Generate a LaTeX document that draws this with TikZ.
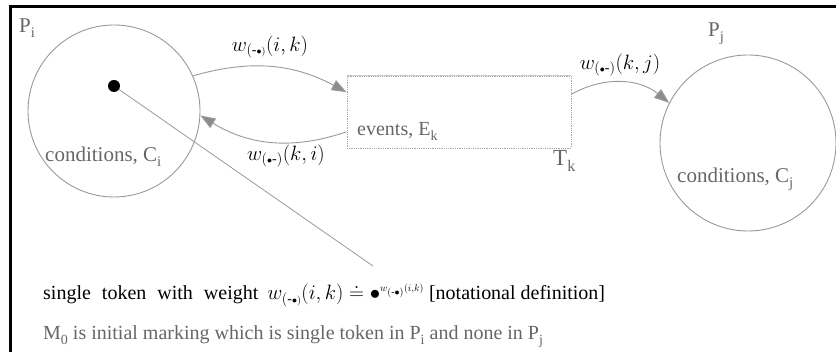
\documentclass[tikz,border=0pt]{standalone}
\usepackage{amsmath, amssymb}
\usepackage{fontspec}
\setmainfont{Liberation Serif}
\usetikzlibrary{arrows.meta}
\newcommand{\dn}[1]{\raisebox{-0.5ex}{\scalebox{0.7}{#1}}}
\newcommand{\wout}{w_{(\text{-}\scriptscriptstyle\bullet)}}
\newcommand{\win}{w_{({\scriptscriptstyle\bullet}\text{-})}}

\begin{document}
\begin{tikzpicture}[x=1pt, y=1pt,
  place/.style={circle, draw=gray!80, line width=0.9pt, minimum size=#1, inner sep=0pt},
  lbl/.style={text=gray!80!black, font=\fontsize{21}{24}\selectfont, inner sep=0pt, anchor=base west},
  wlbl/.style={font=\fontsize{20}{23}\selectfont, inner sep=0pt},
  arc/.style={draw=gray!80, line width=0.9pt, -{Triangle[length=15pt, width=11pt, fill=gray!90]}}]
  \useasboundingbox (0,0) rectangle (836,352);
  \draw[line width=3pt] (10,0) -- (10,345) -- (836,345);
  \node[place=172pt] (Pi) at (114,241) {};
  \node[place=176pt] (Pj) at (748,209) {};
  \node[draw=gray!70, densely dotted, line width=0.8pt, minimum width=224pt, minimum height=72pt, inner sep=0pt] (Ek) at (459,240) {};
  \draw[gray!40, line width=0.8pt] (Ek.north west) -- (Ek.north east);
  \node[circle, fill=black, minimum size=12pt, inner sep=0pt] (tok) at (114,266) {};
  \node[lbl] (piname) at (19,319) {P\dn{i}};
  \node[lbl] (pjname) at (708,315) {P\dn{j}};
  \node[lbl] (condi) at (45,190) {conditions, C\dn{i}};
  \node[lbl] (condj) at (677,169) {conditions, C\dn{j}};
  \node[lbl, font=\fontsize{20}{23}\selectfont] (evk) at (357,216) {events, E\dn{k}};
  \node[lbl, font=\fontsize{23}{26}\selectfont] (tk) at (553,186) {T\dn{k}};
  \node[wlbl] (wik) at (270,305) {$\wout(i,k)$};
  \node[wlbl] (wki) at (286,196) {$\win(k,i)$};
  \node[wlbl] (wkj) at (620,287) {$\win(k,j)$};
  \draw[arc] (Pi.24) to[bend left=22] (Ek.170);
  \draw[arc] (Ek.190) to[bend left=25] (Pi.-3);
  \draw[arc] (Ek.9) to[bend left=34] (Pj.153);
  \coordinate (ptr) at (373,86);
  \draw[gray!80, line width=0.8pt] (tok) -- (ptr);
  \node[wlbl, anchor=base west] (def) at (43,52) {single\hspace{11pt}token\hspace{11pt}with\hspace{11pt}weight\hspace{9pt}$\wout(i,k)\doteq\bullet^{\scriptscriptstyle\wout(i,k)}$ [notational definition]};
  \node[lbl, font=\fontsize{20}{23}\selectfont] (mark) at (43,12) {M\dn{0} is initial marking which is single token in P\dn{i} and none in P\dn{j}};
\end{tikzpicture}
\end{document}
